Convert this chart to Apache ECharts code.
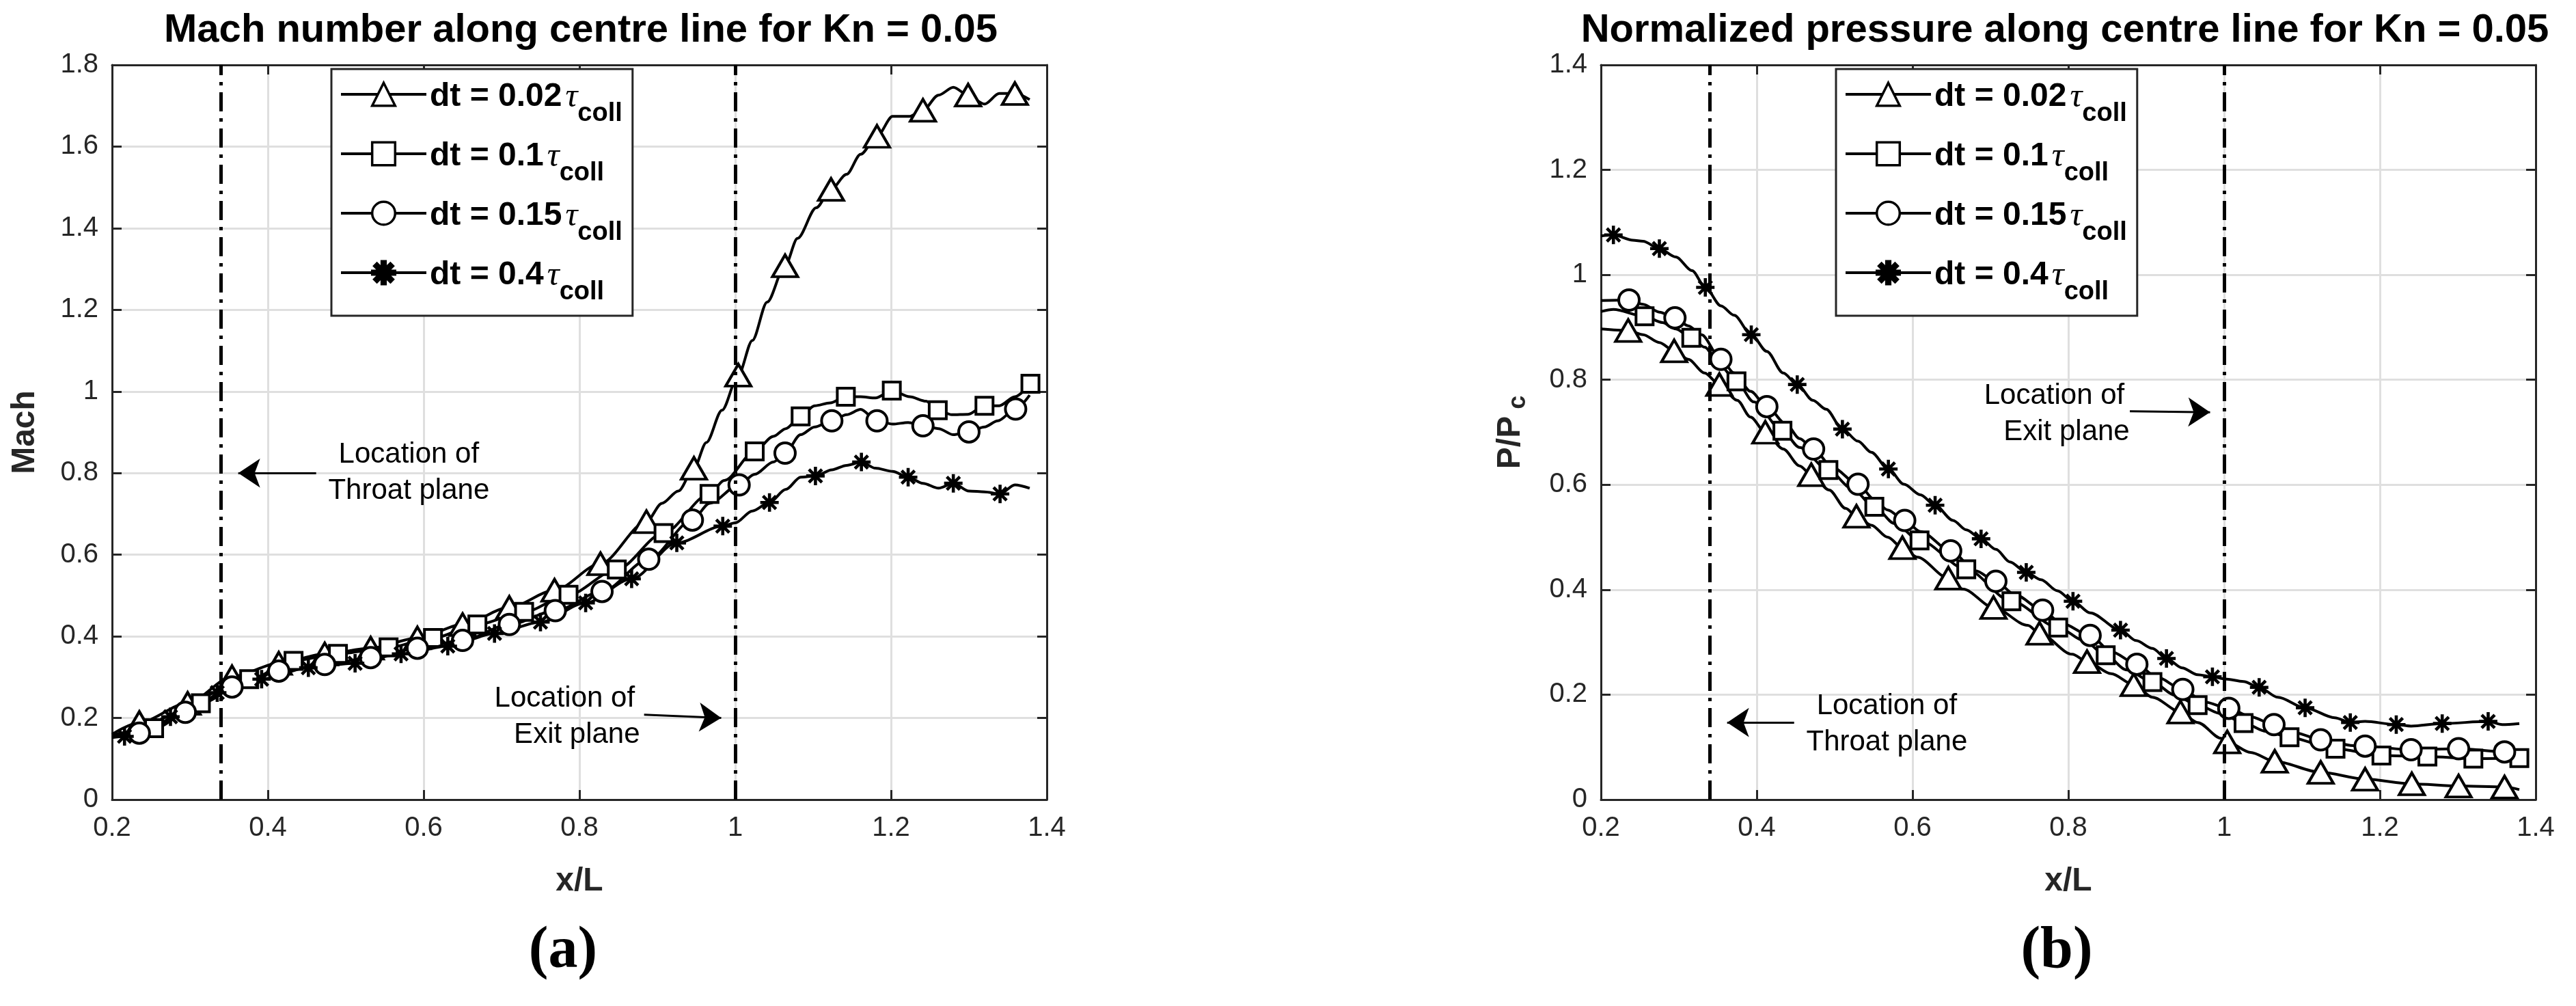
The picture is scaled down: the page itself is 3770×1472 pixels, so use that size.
<!DOCTYPE html>
<html><head><meta charset="utf-8">
<script src="https://cdn.jsdelivr.net/npm/echarts@6/dist/echarts.min.js"></script>
<style>html,body{margin:0;padding:0;background:#fff;}#c{width:3770px;height:1472px;}</style>
</head><body><div id="c"></div>
<script>
// ---------------- DATA ----------------
const seriesNames = ['dt = 0.02', 'dt = 0.1', 'dt = 0.15', 'dt = 0.4'];
const xRange = [0.2, 1.4, 0.2];
const machRange = [0, 1.8, 0.2];
const presRange = [0, 1.4, 0.2];
const throatX = 0.345;
const exitX = 1.0;

// Mach number (left panel): marker points and extra line points
const machTriMarks = [[0.235,0.189],[0.297,0.236],[0.354,0.301],[0.414,0.334],[0.473,0.357],[0.532,0.371],[0.592,0.396],[0.650,0.429],[0.710,0.471],[0.768,0.513],[0.827,0.578],[0.886,0.681],[0.947,0.812],[1.004,1.040],[1.064,1.308],[1.123,1.495],[1.182,1.625],[1.241,1.689],[1.299,1.726],[1.359,1.730]];
const machTriLine = [[0.2,0.160],[0.906,0.726],[0.927,0.756],[0.963,0.875],[0.983,0.954],[1.022,1.125],[1.041,1.219],[1.080,1.375],[1.104,1.450],[1.143,1.532],[1.161,1.581],[1.202,1.674],[1.224,1.674],[1.261,1.726],[1.280,1.745],[1.320,1.704],[1.339,1.730],[1.378,1.715]];
const machSqMarks = [[0.254,0.175],[0.314,0.236],[0.376,0.295],[0.433,0.340],[0.490,0.357],[0.555,0.373],[0.612,0.396],[0.669,0.429],[0.729,0.460],[0.786,0.502],[0.848,0.564],[0.908,0.653],[0.967,0.749],[1.025,0.853],[1.084,0.939],[1.142,0.987],[1.201,1.002],[1.260,0.954],[1.320,0.965],[1.379,1.019]];
const machSqLine = [[0.2,0.158],[0.986,0.782],[1.049,0.890],[1.065,0.909],[1.102,0.965],[1.122,0.972],[1.161,0.987],[1.180,0.984],[1.224,0.987],[1.245,0.976],[1.278,0.943],[1.299,0.944],[1.339,0.965],[1.359,0.987]];
const machCirMarks = [[0.235,0.163],[0.294,0.214],[0.354,0.276],[0.414,0.315],[0.473,0.331],[0.532,0.348],[0.592,0.371],[0.650,0.390],[0.710,0.429],[0.769,0.463],[0.829,0.510],[0.889,0.589],[0.945,0.685],[1.005,0.771],[1.064,0.849],[1.124,0.928],[1.182,0.928],[1.241,0.916],[1.300,0.901],[1.360,0.957]];
const machCirLine = [[0.2,0.155],[0.967,0.726],[1.025,0.797],[1.049,0.827],[1.084,0.894],[1.102,0.913],[1.143,0.943],[1.161,0.956],[1.202,0.920],[1.222,0.924],[1.261,0.909],[1.280,0.894],[1.320,0.913],[1.337,0.928],[1.378,0.991]];
const machStarMarks = [[0.216,0.155],[0.275,0.203],[0.335,0.262],[0.392,0.295],[0.452,0.323],[0.512,0.334],[0.571,0.357],[0.631,0.376],[0.691,0.407],[0.750,0.435],[0.808,0.482],[0.867,0.541],[0.925,0.629],[0.984,0.670],[1.044,0.728],[1.103,0.793],[1.162,0.827],[1.222,0.790],[1.280,0.775],[1.340,0.749]];
const machStarLine = [[0.2,0.152],[1.0,0.678],[1.022,0.707],[1.065,0.760],[1.084,0.790],[1.124,0.808],[1.143,0.819],[1.180,0.812],[1.202,0.804],[1.241,0.775],[1.261,0.763],[1.300,0.756],[1.320,0.754],[1.359,0.771],[1.378,0.763]];

// Normalized pressure (right panel)
const presTriMarks = [[0.235,0.894],[0.294,0.855],[0.352,0.791],[0.411,0.700],[0.470,0.619],[0.528,0.540],[0.587,0.480],[0.646,0.422],[0.704,0.366],[0.763,0.317],[0.824,0.263],[0.884,0.219],[0.944,0.167],[1.004,0.110],[1.065,0.073],[1.124,0.052],[1.181,0.039],[1.241,0.030],[1.301,0.026],[1.360,0.024]];
const presTriLine = [[0.2,0.897],[0.254,0.886],[0.275,0.871],[0.312,0.839],[0.333,0.813],[0.375,0.761],[0.392,0.729],[0.434,0.668],[0.455,0.636],[0.493,0.590],[0.514,0.555],[0.547,0.523],[0.568,0.500],[0.606,0.462],[0.665,0.401],[0.748,0.332],[0.805,0.277],[0.855,0.240],[0.908,0.195],[0.966,0.147],[0.996,0.117],[1.034,0.090],[1.379,0.019]];
const presSqMarks = [[0.256,0.921],[0.316,0.880],[0.374,0.797],[0.433,0.703],[0.492,0.628],[0.551,0.558],[0.609,0.494],[0.669,0.439],[0.727,0.378],[0.787,0.328],[0.848,0.275],[0.908,0.224],[0.966,0.180],[1.025,0.146],[1.084,0.119],[1.143,0.097],[1.202,0.084],[1.261,0.082],[1.320,0.078],[1.379,0.079]];
const presSqLine = [[0.2,0.930],[0.216,0.934],[0.279,0.909],[0.296,0.897],[0.333,0.862],[0.354,0.825],[0.396,0.758],[0.455,0.671],[0.522,0.593],[0.577,0.526],[0.820,0.303],[0.875,0.247],[0.937,0.199],[0.996,0.164],[1.054,0.130],[1.122,0.106]];
const presCirMarks = [[0.236,0.952],[0.295,0.918],[0.354,0.839],[0.413,0.749],[0.473,0.668],[0.530,0.601],[0.590,0.532],[0.649,0.474],[0.707,0.416],[0.767,0.361],[0.828,0.313],[0.888,0.258],[0.947,0.210],[1.006,0.174],[1.064,0.143],[1.124,0.114],[1.181,0.102],[1.240,0.095],[1.301,0.097],[1.360,0.091]];
const presCirLine = [[0.2,0.951],[0.254,0.944],[0.275,0.929],[0.312,0.903],[0.329,0.886],[0.371,0.813],[0.392,0.778],[0.438,0.715],[0.455,0.688],[0.497,0.633],[0.551,0.572],[0.568,0.552],[0.610,0.511],[0.681,0.436],[0.732,0.390],[0.790,0.337],[0.855,0.282],[0.913,0.234],[0.975,0.186],[1.034,0.158],[1.092,0.127],[1.166,0.103],[1.379,0.081]];
const presStarMarks = [[0.216,1.076],[0.275,1.050],[0.334,0.976],[0.393,0.886],[0.452,0.791],[0.510,0.706],[0.569,0.630],[0.629,0.561],[0.688,0.497],[0.746,0.433],[0.806,0.378],[0.867,0.323],[0.926,0.269],[0.985,0.234],[1.045,0.214],[1.104,0.175],[1.162,0.147],[1.221,0.143],[1.280,0.145],[1.339,0.149]];
const presStarLine = [[0.2,1.074],[0.241,1.066],[0.254,1.064],[0.296,1.034],[0.317,1.008],[0.354,0.941],[0.371,0.923],[0.413,0.854],[0.434,0.813],[0.472,0.761],[0.489,0.744],[0.530,0.683],[0.547,0.662],[0.589,0.601],[0.610,0.581],[0.652,0.532],[0.669,0.514],[0.707,0.477],[0.725,0.453],[0.765,0.419],[0.786,0.398],[0.828,0.356],[0.887,0.303],[0.908,0.288],[0.946,0.251],[0.966,0.238],[1.001,0.230],[1.025,0.225],[1.069,0.195],[1.142,0.156],[1.181,0.149],[1.240,0.140],[1.357,0.143],[1.379,0.145]];

// Annotations (data coordinates)
const machThroatText = [0.581, 0.800];
const machThroatArrow = [[0.462, 0.800], [0.362, 0.800]];
const machExitText = [0.781, 0.202];
const machExitArrow = [[0.883, 0.208], [0.982, 0.200]];
const presThroatText = [0.567, 0.1435];
const presThroatArrow = [[0.448, 0.147], [0.362, 0.147]];
const presExitText = [0.782, 0.734];
const presExitArrow = [[0.879, 0.740], [0.982, 0.738]];

// ---------------- STYLE / BUILD ----------------
const FONT = '"Liberation Sans", Arial, Helvetica, sans-serif';
const AX = '#262626';

function asteriskPath() {
  const L = 20, t = 3.4;
  let s = 'path://';
  [0, 45, 90, 135].forEach(a => {
    const r = a * Math.PI / 180;
    const dx = Math.cos(r), dy = Math.sin(r), nx = -dy, ny = dx;
    const pts = [[L/2*dx + t/2*nx, L/2*dy + t/2*ny], [L/2*dx - t/2*nx, L/2*dy - t/2*ny],
                 [-L/2*dx - t/2*nx, -L/2*dy - t/2*ny], [-L/2*dx + t/2*nx, -L/2*dy + t/2*ny]];
    s += 'M' + pts.map(p => p[0].toFixed(3) + ' ' + p[1].toFixed(3)).join(' L') + ' Z ';
  });
  return s;
}
const STAR = asteriskPath();

const markerDefs = [
  {symbol: 'triangle', size: [37, 32], fill: '#fff'},
  {symbol: 'rect', size: 25, fill: '#fff'},
  {symbol: 'circle', size: 30, fill: '#fff'},
  {symbol: STAR, size: 27, fill: '#000'}
];

function build(marks, line) {
  const pts = marks.map(p => ({v: p, m: true})).concat(line.map(p => ({v: p, m: false})));
  pts.sort((a, b) => a.v[0] - b.v[0]);
  return pts.map(p => p.m ? {value: p.v} : {value: p.v, symbol: 'none'});
}

function mkSeries(idx, grid, marks, line) {
  const md = markerDefs[idx];
  return {
    type: 'line', name: seriesNames[idx], xAxisIndex: grid * 2, yAxisIndex: grid * 2,
    data: build(marks, line), smooth: 0.3, smoothMonotone: 'x',
    symbol: md.symbol, symbolSize: md.size, showSymbol: true, showAllSymbol: true,
    lineStyle: {color: '#000', width: 4},
    itemStyle: {color: md.fill, borderColor: '#000', borderWidth: md.fill === '#000' ? 0 : 4},
    emphasis: {disabled: true}, animation: false, z: 3
  };
}

function vLines() {
  return {silent: true, animation: false, symbol: ['none', 'none'], label: {show: false},
    lineStyle: {color: '#000', width: 5, type: [28, 10, 5, 10]}, emphasis: {disabled: true},
    data: [{xAxis: throatX}, {xAxis: exitX}]};
}
function arrows(a1, a2) {
  return {silent: true, animation: false, symbol: ['none', 'arrow'], symbolSize: 32, label: {show: false},
    lineStyle: {color: '#000', width: 3, type: 'solid'}, emphasis: {disabled: true},
    data: [[{coord: a1[0]}, {coord: a1[1]}], [{coord: a2[0]}, {coord: a2[1]}]]};
}
function texts(throat, exit) {
  return {silent: true, animation: false, symbol: 'circle', symbolSize: 1, itemStyle: {color: 'rgba(0,0,0,0)'},
    label: {show: true, position: 'inside', color: '#000', fontSize: 42, lineHeight: 53, fontFamily: FONT, align: 'center',
      rich: {a: {fontSize: 42, lineHeight: 53, fontFamily: FONT, color: '#000'},
             b: {fontSize: 42, lineHeight: 53, fontFamily: FONT, color: '#000', padding: [0, 0, 0, 36]}}},
    data: [{coord: throat, label: {formatter: 'Location of\nThroat plane'}},
           {coord: exit, label: {formatter: '{a|Location of}\n{b|Exit plane}'}}]};
}

const grids = [
  {left: 164, top: 95, width: 1368, height: 1075},
  {left: 2343, top: 95, width: 1368, height: 1075}
];

function xAxes(gi) {
  const base = {type: 'value', gridIndex: gi, min: xRange[0], max: xRange[1], interval: xRange[2],
    axisLine: {show: true, onZero: false, lineStyle: {color: AX, width: 3}},
    axisTick: {show: true, inside: true, length: 14, lineStyle: {color: AX, width: 3}}};
  return [
    Object.assign({}, base, {position: 'bottom', name: 'x/L', nameLocation: 'middle', nameGap: 96,
      nameTextStyle: {fontSize: 48, fontWeight: 'bold', color: AX, fontFamily: FONT},
      axisLabel: {color: AX, fontSize: 40, fontFamily: FONT, margin: 22},
      splitLine: {show: true, lineStyle: {color: '#dfdfdf', width: 3}}}),
    Object.assign({}, base, {position: 'top', axisLabel: {show: false}, splitLine: {show: false}})
  ];
}
function yAxes(gi, range, name, rich) {
  const base = {type: 'value', gridIndex: gi, min: range[0], max: range[1], interval: range[2],
    axisLine: {show: true, onZero: false, lineStyle: {color: AX, width: 3}},
    axisTick: {show: true, inside: true, length: 14, lineStyle: {color: AX, width: 3}}};
  return [
    Object.assign({}, base, {position: 'left', name: name, nameLocation: 'middle', nameGap: 103,
      nameTextStyle: {fontSize: 48, fontWeight: 'bold', color: AX, fontFamily: FONT, rich: rich},
      axisLabel: {color: AX, fontSize: 40, fontFamily: FONT, margin: 20},
      splitLine: {show: true, lineStyle: {color: '#dfdfdf', width: 3}}}),
    Object.assign({}, base, {position: 'right', axisLabel: {show: false}, splitLine: {show: false}})
  ];
}

const legendRich = {
  b: {fontSize: 48, fontWeight: 'bold', fontFamily: FONT, color: '#000', lineHeight: 48, verticalAlign: 'top', padding: [4, 0, 0, 0]},
  t: {fontSize: 50, fontStyle: 'italic', fontFamily: '"Liberation Serif", serif', color: '#000', lineHeight: 48, verticalAlign: 'top', padding: [4, 0, 0, 5]},
  s: {fontSize: 38, fontWeight: 'bold', fontFamily: FONT, color: '#000', lineHeight: 38, verticalAlign: 'top', padding: [34, 0, 0, 0]}
};
function legend(left) {
  return {orient: 'vertical', left: left, top: 101, data: seriesNames.slice(),
    formatter: n => '{b|' + n + '}{t|τ}{s|coll}',
    itemWidth: 125, itemHeight: 42, itemGap: 15, padding: [13, 15, 15, 12],
    borderColor: AX, borderWidth: 3, backgroundColor: '#fff', borderRadius: 0,
    textStyle: {rich: legendRich, padding: [0, 0, 0, 0]},
    lineStyle: {width: 4, color: '#000'}, itemStyle: {borderWidth: 3.5},
    selectedMode: false, inactiveColor: '#000', z: 10};
}

const titleStyle = {fontSize: 58, fontWeight: 'bold', color: '#000', fontFamily: FONT};
const capRich = {p: {fontSize: 86, lineHeight: 96, fontFamily: '"Liberation Serif", serif', color: '#000'},
                 a: {fontSize: 86, lineHeight: 96, fontWeight: 'bold', fontFamily: '"Liberation Serif", serif', color: '#000'}};

const left = [mkSeries(0, 0, machTriMarks, machTriLine), mkSeries(1, 0, machSqMarks, machSqLine),
              mkSeries(2, 0, machCirMarks, machCirLine), mkSeries(3, 0, machStarMarks, machStarLine)];
const right = [mkSeries(0, 1, presTriMarks, presTriLine), mkSeries(1, 1, presSqMarks, presSqLine),
               mkSeries(2, 1, presCirMarks, presCirLine), mkSeries(3, 1, presStarMarks, presStarLine)];
left[0].markLine = vLines(); left[1].markLine = arrows(machThroatArrow, machExitArrow); left[2].markPoint = texts(machThroatText, machExitText);
right[0].markLine = vLines(); right[1].markLine = arrows(presThroatArrow, presExitArrow); right[2].markPoint = texts(presThroatText, presExitText);

const chart = echarts.init(document.getElementById('c'), null, {renderer: 'canvas'});
chart.setOption({
  animation: false,
  backgroundColor: '#fff',
  title: [
    {text: 'Mach number along centre line for Kn = 0.05', left: 850, top: 16, textAlign: 'center', textStyle: titleStyle, padding: 0},
    {text: 'Normalized pressure along centre line for Kn = 0.05', left: 3022, top: 16, textAlign: 'center', textStyle: titleStyle, padding: 0},
    {text: '{p|(}{a|a}{p|)}', left: 824, top: 1345, textAlign: 'center', textStyle: {rich: capRich}, padding: 0},
    {text: '{p|(}{a|b}{p|)}', left: 3010, top: 1345, textAlign: 'center', textStyle: {rich: capRich}, padding: 0}
  ],
  grid: grids,
  xAxis: xAxes(0).concat(xAxes(1)),
  yAxis: yAxes(0, machRange, 'Mach', null).concat(
         yAxes(1, presRange, '{n|P/P}{s| c}', {n: {fontSize: 48, fontWeight: 'bold', fontFamily: FONT, color: AX},
                                              s: {fontSize: 36, fontWeight: 'bold', fontFamily: FONT, color: AX, padding: [22, 0, 0, 0]}})),
  legend: [legend(485), legend(2687)],
  series: left.concat(right)
});
</script>
</body></html>
